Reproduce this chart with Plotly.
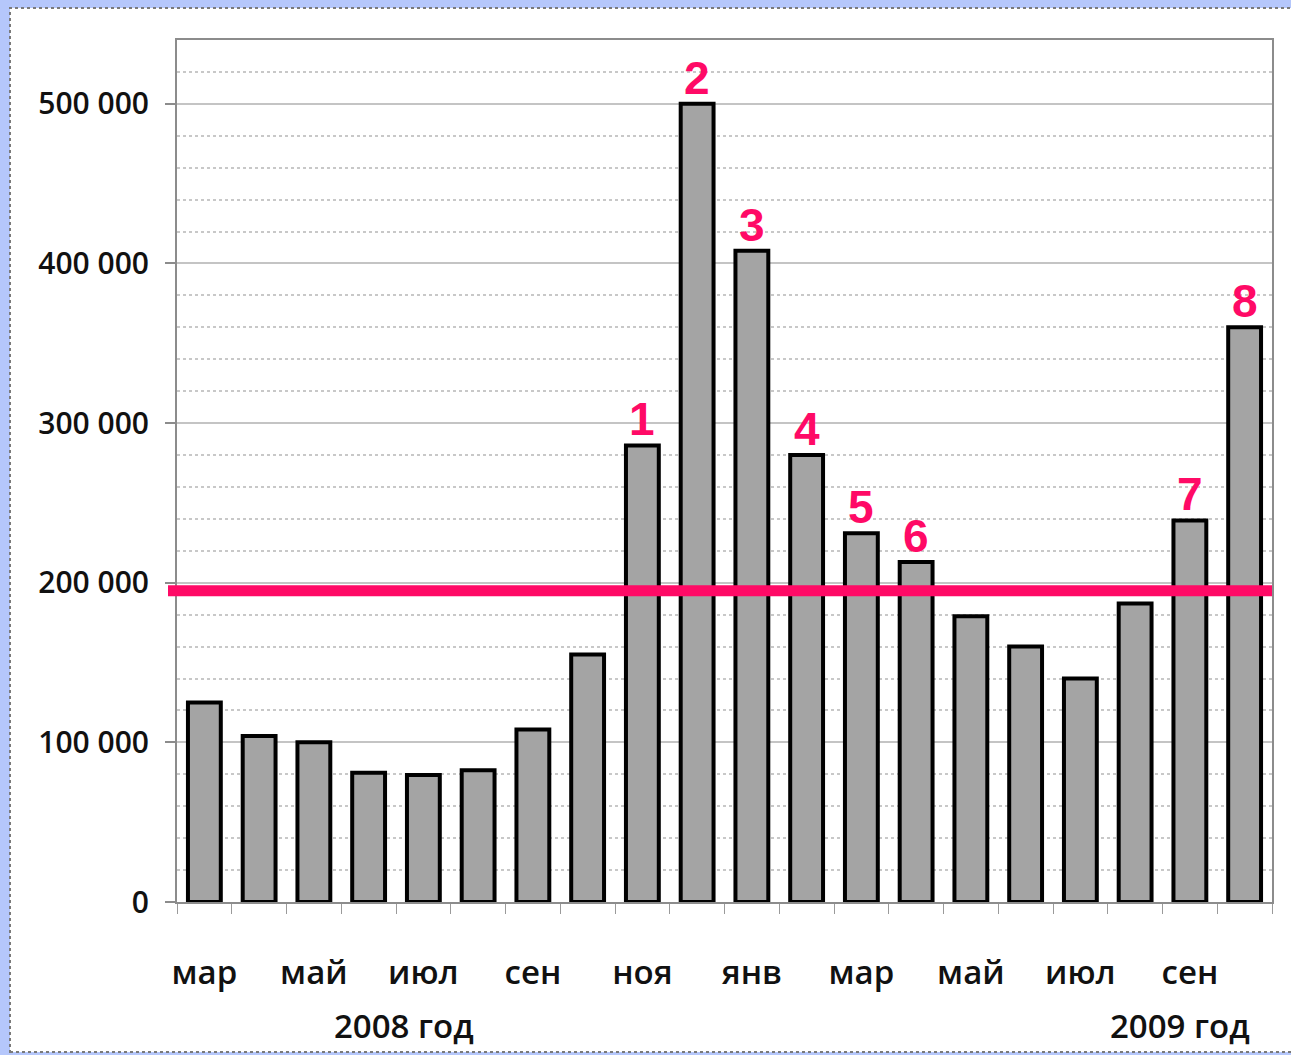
import plotly.graph_objects as go

months = ["мар", "апр", "май", "июн", "июл", "авг", "сен", "окт", "ноя", "дек",
          "янв", "фев", "мар", "апр", "май", "июн", "июл", "авг", "сен", "окт"]
values = [125000, 104000, 100000, 81000, 79500, 82500, 108000, 155000, 286000, 500000,
          408000, 280000, 231000, 213000, 179000, 160000, 140000, 187000, 239000, 360000]
marked_idx = [8, 9, 10, 11, 12, 13, 18, 19]
marked_txt = ["1", "2", "3", "4", "5", "6", "7", "8"]
threshold = 195000
y_ticks = [0, 100000, 200000, 300000, 400000, 500000]
y_ticktext = ["0", "100 000", "200 000", "300 000", "400 000", "500 000"]
years = ["2008 год", "2009 год"]

x = list(range(len(values)))
W, H = 1291, 1055
L, R, T, B = 177, 19, 40, 153
pw, ph = W - L - R, H - T - B

def px(xp):
    return (xp - L) / pw

def py(yp):
    return (H - B - yp) / ph

PINK = "#ff0a66"
FONT = "Open Sans"
TXT = "#111111"

fig = go.Figure()
fig.add_trace(go.Bar(
    x=x, y=values, width=0.6,
    marker=dict(color="#a4a4a4", line=dict(color="#000000", width=4)),
    hoverinfo="y", showlegend=False,
))

# outer white frame on blue page
fig.add_shape(type="rect", xref="paper", yref="paper",
              x0=px(10), x1=px(1295), y0=py(1052), y1=py(8),
              fillcolor="#ffffff", line=dict(color="#7a7a7a", width=2, dash="dot"),
              layer="below")

# threshold line
fig.add_shape(type="line", xref="paper", yref="y",
              x0=px(168), x1=1.0, y0=threshold, y1=threshold,
              line=dict(color=PINK, width=11), layer="above")

for i, t in zip(marked_idx, marked_txt):
    fig.add_annotation(x=x[i], y=values[i], text=t, showarrow=False,
                       xanchor="center", yanchor="bottom", yshift=-2,
                       font=dict(family="Liberation Sans", size=46, color=PINK, weight="bold"))

fig.add_annotation(x=px(404), y=py(1025), xref="paper", yref="paper", text=years[0],
                   showarrow=False, xanchor="center", yanchor="middle",
                   font=dict(family=FONT, size=33, color=TXT, weight=600))
fig.add_annotation(x=px(1180), y=py(1025), xref="paper", yref="paper", text=years[1],
                   showarrow=False, xanchor="center", yanchor="middle",
                   font=dict(family=FONT, size=33, color=TXT, weight=600))

fig.update_layout(
    width=W, height=H,
    margin=dict(l=L, r=R, t=T, b=B, pad=0),
    paper_bgcolor="#b5c7fb",
    plot_bgcolor="#ffffff",
    xaxis=dict(
        range=[-0.5, len(values) - 0.5],
        tickvals=x[::2], ticktext=months[::2],
        ticks="", showgrid=False, zeroline=False,
        showline=True, linecolor="#8c8c8c", linewidth=2, mirror=True,
        tickfont=dict(family=FONT, size=33, color=TXT, weight=600),
        ticklabelstandoff=40,
        minor=dict(tickvals=[i - 0.5 for i in range(len(values) + 1)],
                   ticks="outside", ticklen=10, tickcolor="#9a9a9a", tickwidth=1,
                   showgrid=False),
    ),
    yaxis=dict(
        range=[0, 540000],
        tickvals=y_ticks, ticktext=y_ticktext,
        ticks="outside", ticklen=10, tickcolor="#8c8c8c", tickwidth=2,
        showgrid=True, gridcolor="#c4c4c4", gridwidth=2,
        zeroline=False,
        showline=True, linecolor="#8c8c8c", linewidth=2, mirror=True,
        tickfont=dict(family=FONT, size=30, color=TXT, weight=600),
        ticklabelstandoff=10,
        minor=dict(dtick=20000, showgrid=True, gridcolor="#c8c8c8",
                   griddash="dot", gridwidth=1.5),
    ),
)

fig.write_html("out.html", config={"displayModeBar": False},
               post_script="document.body.style.margin='0';")
